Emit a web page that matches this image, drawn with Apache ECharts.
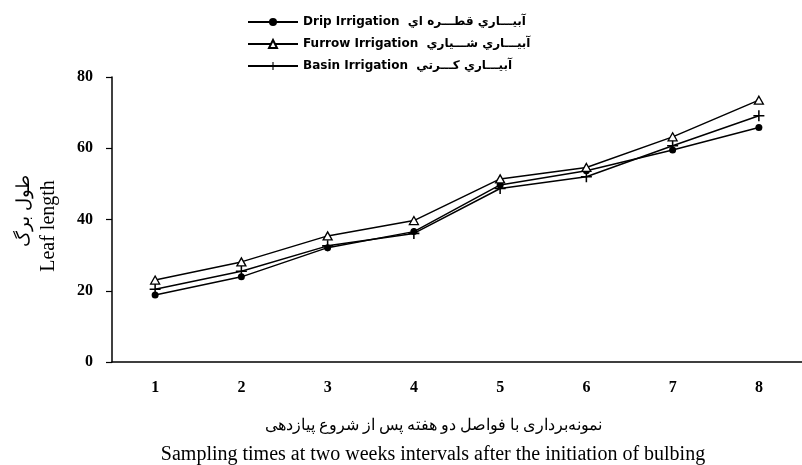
<!DOCTYPE html>
<html><head><meta charset="utf-8">
<script src="https://cdn.jsdelivr.net/npm/echarts@6/dist/echarts.min.js"></script>
<style>html,body{margin:0;padding:0;background:#fff}#c{width:802px;height:465px}</style>
</head><body><div id="c"></div>
<script>
const categories = ['1','2','3','4','5','6','7','8'];
const yTicks = [0, 20, 40, 60, 80];
const dripValues   = [18.8, 23.9, 32.1, 36.6, 49.7, 53.7, 59.5, 65.8];
const furrowValues = [23.0, 28.1, 35.4, 39.7, 51.4, 54.6, 63.2, 73.5];
const basinValues  = [20.4, 25.5, 32.6, 36.1, 48.7, 52.0, 60.7, 69.1];
const seriesNames = [
  'Drip Irrigation  آبيـــاري قطـــره اي',
  'Furrow Irrigation  آبيـــاري شـــياري',
  'Basin Irrigation  آبيـــاري كـــرتي'
];
const yNameEn = 'Leaf length';
const yNameFa = 'طول برگ';
const xNameFa = 'نمونه‌برداری با فواصل دو هفته پس از شروع پیازدهی';
const xNameEn = 'Sampling times at two weeks intervals after the initiation of bulbing';

const serif = '"Liberation Serif", "Times New Roman", serif';
const plusPath = 'path://M4.3,0H5.7V4.3H10V5.7H5.7V10H4.3V5.7H0V4.3H4.3Z';

const chart = echarts.init(document.getElementById('c'));
const lineStyle = { color: '#000', width: 1.5 };
chart.setOption({
  animation: false,
  backgroundColor: '#fff',
  grid: { left: 112, top: 77, width: 694, height: 285 },
  legend: {
    orient: 'vertical', left: 242, top: 11, itemWidth: 50, itemHeight: 10, itemGap: 10,
    textStyle: { fontFamily: '"DejaVu Sans", sans-serif', fontWeight: 'bold', fontSize: 12, color: '#000' },
    data: seriesNames
  },
  xAxis: {
    type: 'category', data: categories, boundaryGap: true,
    axisLine: { lineStyle: { color: '#000', width: 1.5 } },
    axisTick: { length: 5, lineStyle: { color: '#000', width: 1.2 } },
    axisLabel: { margin: 18, color: '#000', fontFamily: serif, fontWeight: 'bold', fontSize: 16 }
  },
  yAxis: {
    type: 'value', min: yTicks[0], max: yTicks[yTicks.length - 1], interval: yTicks[1] - yTicks[0],
    splitLine: { show: false },
    axisLine: { show: true, lineStyle: { color: '#000', width: 1.5 } },
    axisTick: { show: true, length: 6, lineStyle: { color: '#000', width: 1.2 } },
    axisLabel: { margin: 19, color: '#000', fontFamily: serif, fontWeight: 'bold', fontSize: 16 }
  },
  series: [
    { name: seriesNames[0], type: 'line', data: dripValues, symbol: 'circle', symbolSize: 7,
      lineStyle: lineStyle, itemStyle: { color: '#000' }, z: 3 },
    { name: seriesNames[1], type: 'line', data: furrowValues, symbol: 'triangle', symbolSize: [9, 8],
      lineStyle: lineStyle, itemStyle: { color: '#fff', borderColor: '#000', borderWidth: 1.3 }, z: 4 },
    { name: seriesNames[2], type: 'line', data: basinValues, symbol: plusPath, symbolSize: 11,
      lineStyle: lineStyle, itemStyle: { color: '#000' }, z: 2 }
  ],
  graphic: [
    { type: 'text', x: 49, y: 226, rotation: Math.PI / 2,
      style: { text: yNameEn, font: '20px ' + serif, fill: '#000', align: 'center', verticalAlign: 'middle' } },
    { type: 'text', x: 24, y: 175, rotation: Math.PI / 2,
      style: { text: yNameFa, font: '18px ' + serif, fill: '#000', align: 'right', verticalAlign: 'middle' } },
    { type: 'text', x: 433, y: 426,
      style: { text: xNameFa, font: '16px ' + serif, fill: '#000', align: 'center', verticalAlign: 'middle' } },
    { type: 'text', x: 433, y: 455,
      style: { text: xNameEn, font: '20px ' + serif, fill: '#000', align: 'center', verticalAlign: 'middle' } }
  ]
});
</script>
</body></html>
